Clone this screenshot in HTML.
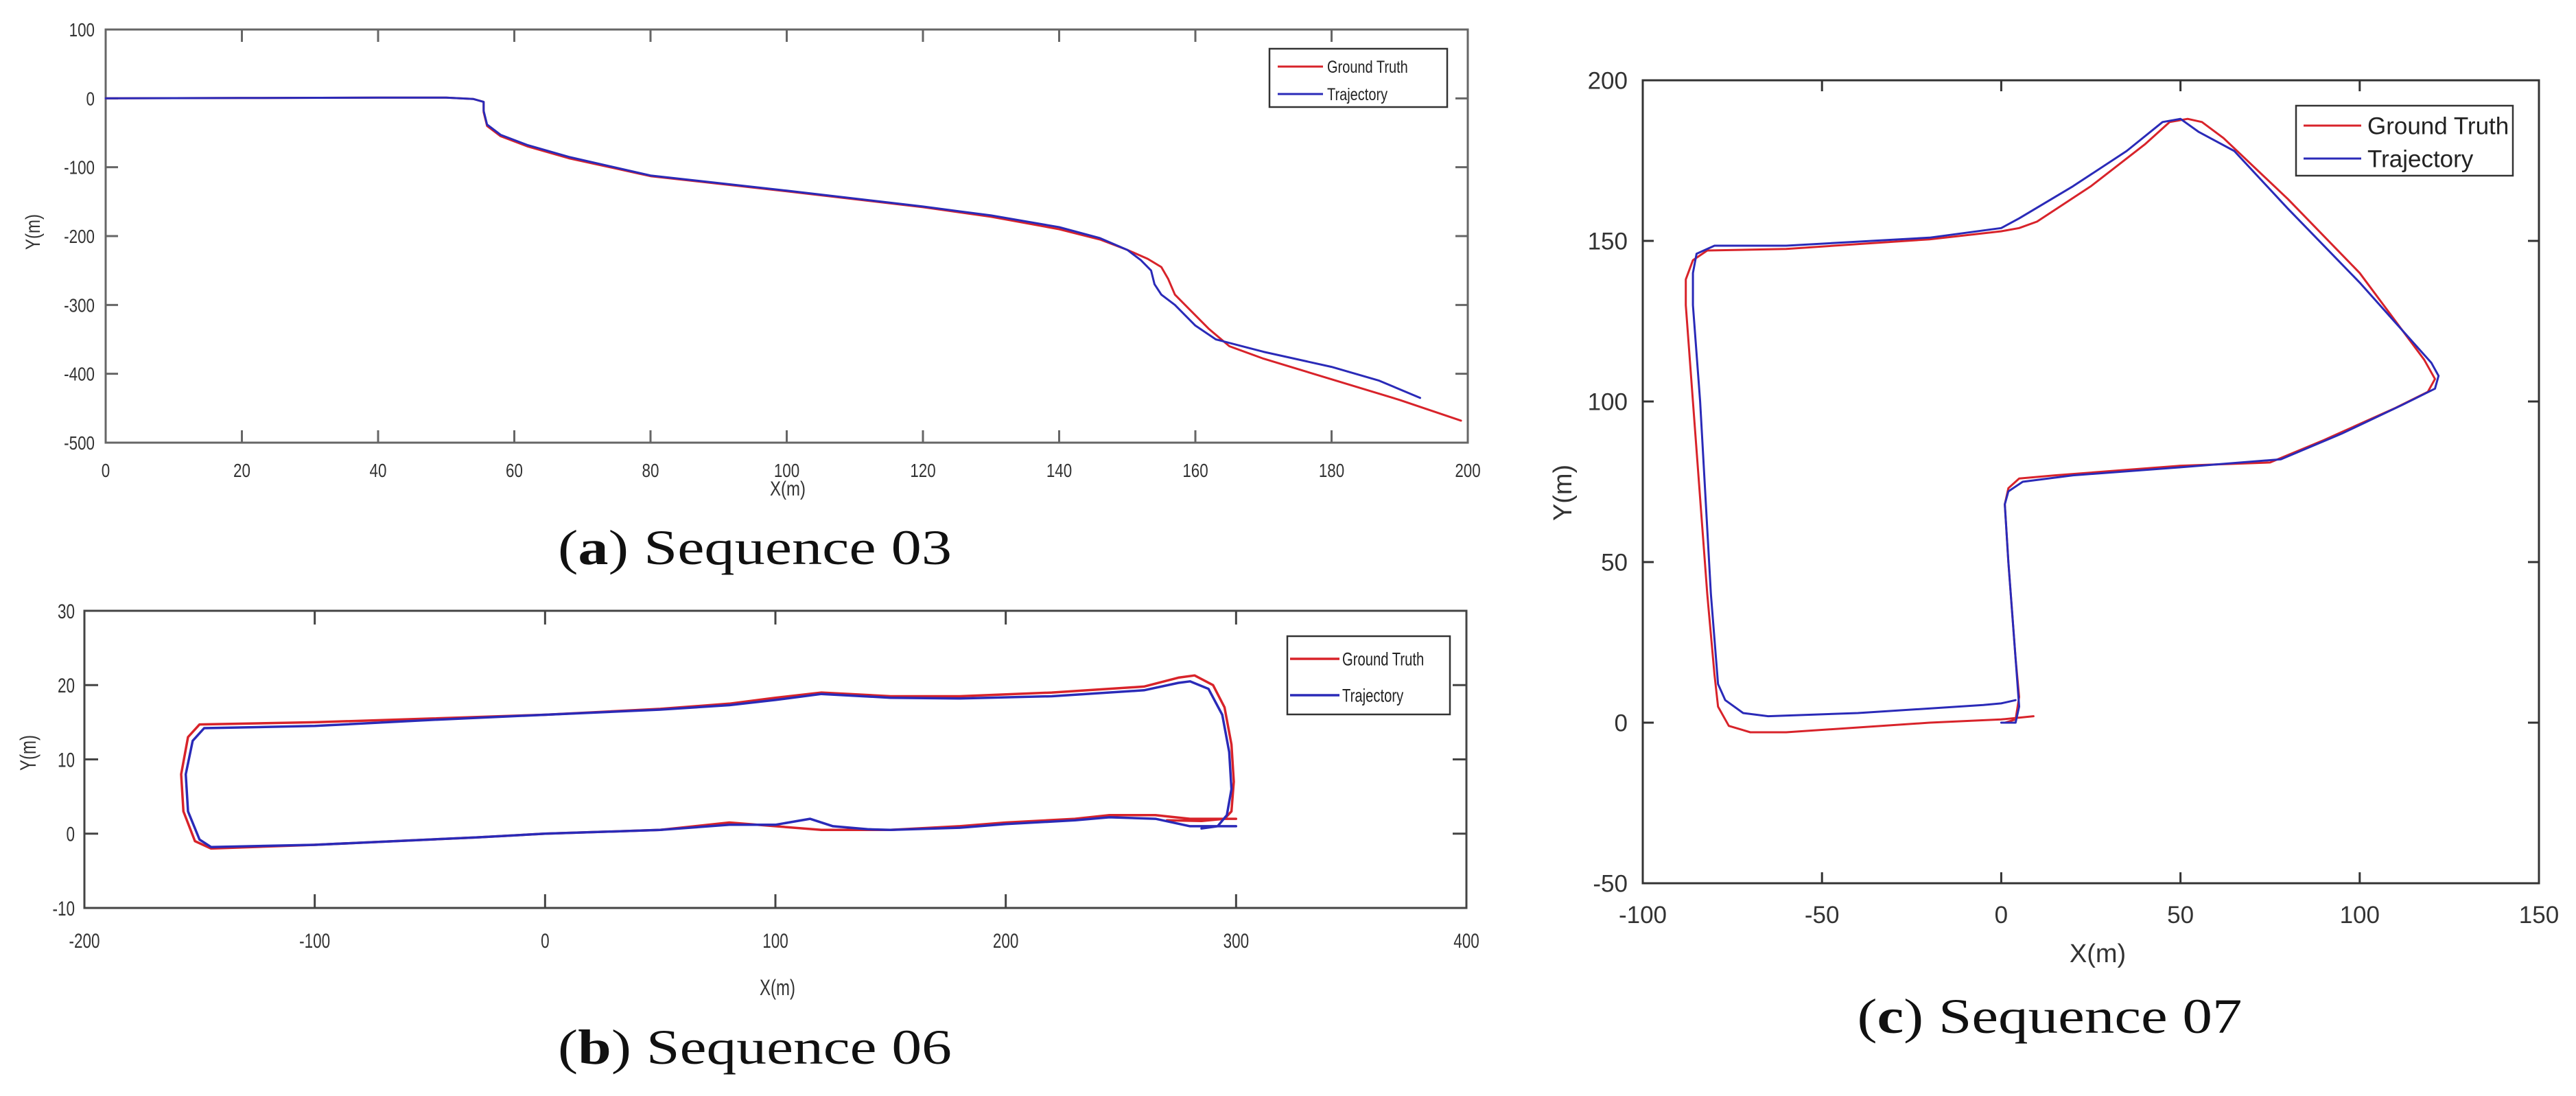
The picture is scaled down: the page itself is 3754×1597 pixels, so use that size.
<!DOCTYPE html>
<html><head><meta charset="utf-8"><style>
html,body{margin:0;padding:0;background:#fff;}
svg{display:block;}
</style></head><body>
<svg id="fig" xmlns="http://www.w3.org/2000/svg" width="3754" height="1597" viewBox="0 0 3754 1597">
<rect x="0" y="0" width="3754" height="1597" fill="#fff"/>
</svg>
<script>
// ---------- Data: Sequence 03 ----------
const a_gt_x = [0,20,40,50,54,55.5,55.5,56,58,62,68,80,100,120,130,140,146,150,153,155,156,157,159,162,165,170,180,190,199];
const a_gt_y = [0,0.5,1,1,-1,-5,-20,-40,-55,-70,-87,-113,-135,-158,-172,-190,-205,-220,-233,-245,-262,-285,-305,-335,-360,-378,-408,-438,-468];
const a_tr_x = [0,20,40,50,54,55.5,55.5,56,58,62,68,80,100,120,130,140,146,150,152,153.5,154,155,157,160,163,170,180,187,193];
const a_tr_y = [0,0.5,1,1,-1,-5,-18,-38,-53,-68,-85,-112,-134,-157,-170,-187,-203,-220,-235,-250,-270,-285,-300,-330,-350,-368,-390,-410,-435];
const a_xticks = [0,20,40,60,80,100,120,140,160,180,200];
const a_yticks = [100,0,-100,-200,-300,-400,-500];

// ---------- Data: Sequence 06 ----------
const b_gt_x = [300,280,265,245,230,200,180,150,120,100,80,50,0,-30,-100,-145,-152,-157,-158,-155,-150,-100,-50,0,50,80,100,120,150,180,220,260,275,282,290,295,298,299,298,295,285,270];
const b_gt_y = [2,2,2.5,2.5,2,1.5,1,0.5,0.5,1,1.5,0.5,0,-0.5,-1.5,-2,-1,3,8,13,14.7,15,15.5,16,16.8,17.5,18.3,19,18.5,18.5,19,19.8,21,21.3,20,17,12,7,3,2,1.7,1.8];
const b_tr_x = [300,290,280,265,245,230,200,180,150,140,125,115,100,80,50,0,-30,-100,-145,-150,-155,-156,-153,-148,-100,-50,0,50,80,100,120,150,180,220,260,275,280,288,294,297,298,296,292,285];
const b_tr_y = [1,1,1,2,2.2,1.8,1.3,0.8,0.5,0.6,1,2,1.2,1.2,0.5,0,-0.5,-1.5,-1.8,-0.8,3,8,12.5,14.2,14.5,15.3,16,16.7,17.3,18,18.8,18.3,18.2,18.5,19.3,20.3,20.5,19.5,16,11,6,2.5,1,0.7];
const b_xticks = [-200,-100,0,100,200,300,400];
const b_yticks = [30,20,10,0,-10];

// ---------- Data: Sequence 07 ----------
const c_gt_x = [9,0,-20,-60,-70,-76,-79,-80,-82,-86,-88,-88,-86,-82,-60,-20,0,5,10,25,40,47,52,56,62,80,100,118,121,119,110,90,75,50,15,5,2,1,2,4,5,4,1];
const c_gt_y = [2,1,0,-3,-3,-1,5,15,40,100,130,138,144,147,147.5,150.5,153,154,156,167,180,187,188,187,182,163,140,113,107,103,98,88,81,80,77,76,73,68,50,20,8,1,0];
const c_tr_x = [0,4,5,4,2,1,2,6,20,50,78,95,112,121,122,120,100,80,65,60,55,50,45,35,20,5,0,-20,-60,-80,-85,-86,-86,-84,-81,-79,-77,-72,-65,-40,-5,0,4];
const c_tr_y = [0,0,5,20,50,68,72,75,77,79.5,82,90,99,104,108,112,137,160,178,181,184,188,187,178,167,157,154,151,148.5,148.5,146,140,130,100,40,12,7,3,2,3,5.5,6,7];
const c_xticks = [-100,-50,0,50,100,150];
const c_yticks = [200,150,100,50,0,-50];

const NS = "http://www.w3.org/2000/svg";
const svg = document.getElementById('fig');
const RED = "#d8232a", BLUE = "#2a2ab8";

function mk(tag, attrs, parent){
  const e = document.createElementNS(NS, tag);
  for (const k in attrs) e.setAttribute(k, attrs[k]);
  (parent||svg).appendChild(e);
  return e;
}
function txt(str, x, y, size, anchor, sx, fill, parent, extra){
  const t = mk('text', {x:0, y:0, 'font-family':'Liberation Sans, Arial, sans-serif', 'font-size':size, 'text-anchor':anchor, fill:fill,
    transform:'translate('+x+','+y+') scale('+sx+',1)'}, parent);
  if (extra) for (const k in extra) t.setAttribute(k, extra[k]);
  t.textContent = str;
  return t;
}

function chart(c){
  const g = mk('g', {});
  
  
  const X = v => c.L + (v - c.xmin) / (c.xmax - c.xmin) * (c.R - c.L);
  const Y = v => c.B - (v - c.ymin) / (c.ymax - c.ymin) * (c.B - c.T);
  // frame
  const fr = mk('rect', {x:c.L, y:c.T, width:c.R-c.L, height:c.B-c.T, fill:'none', stroke:c.frame, 'stroke-width':3}, g);
  
  
  // x ticks
  c.xt.forEach(v => {
    const x = X(v);
    mk('line', {x1:x, y1:c.B, x2:x, y2:c.B-c.tl, stroke:c.frame, 'stroke-width':3}, g);
    mk('line', {x1:x, y1:c.T, x2:x, y2:c.T+c.tl, stroke:c.frame, 'stroke-width':3}, g);
    const t = txt(String(v), x, c.B + c.xlo, c.fs, 'middle', c.sx, '#333', g);
    
    
  });
  c.yt.forEach(v => {
    const y = Y(v);
    mk('line', {x1:c.L, y1:y, x2:c.L+c.tl, y2:y, stroke:c.frame, 'stroke-width':3}, g);
    mk('line', {x1:c.R, y1:y, x2:c.R-c.tl, y2:y, stroke:c.frame, 'stroke-width':3}, g);
    const t = txt(String(v), c.L - c.ylo, y + c.fs*0.36, c.fs, 'end', c.sx, '#333', g);
    
    
  });
  // series
  const line = (xs, ys, col, nm) => {
    const p = mk('polyline', {points: xs.map((v,i) => X(v).toFixed(1)+','+Y(ys[i]).toFixed(1)).join(' '),
      fill:'none', stroke:col, 'stroke-width':c.lw, 'stroke-linejoin':'round', 'stroke-linecap':'round'}, g);
    
    
  };
  line(c.gx, c.gy, RED, 'ground-truth-line');
  line(c.tx, c.ty, BLUE, 'trajectory-line');
  // axis titles
  const xl = txt('X(m)', c.xlab[0], c.xlab[1], c.lfs, 'middle', c.sx, '#333', g);
  
  
  const yl = mk('text', {x:0, y:0, 'font-family':'Liberation Sans, Arial, sans-serif', 'font-size':c.lfs, 'text-anchor':'middle', fill:'#333',
    transform:'translate('+c.ylab[0]+','+c.ylab[1]+') rotate(-90) scale('+c.sx+',1)'}, g);
  yl.textContent = 'Y(m)';
  
  
  // legend
  const lg = mk('g', {}, g);
  
  
  const lb = c.leg;
  mk('rect', {x:lb.x, y:lb.y, width:lb.w, height:lb.h, fill:'#fff', stroke:'#333', 'stroke-width':2.5}, lg);
  [['Ground Truth', RED, lb.r1], ['Trajectory', BLUE, lb.r2]].forEach(([s, col, ry]) => {
    const e = mk('g', {}, lg);
    
    
    mk('line', {x1:lb.l1, y1:ry, x2:lb.l2, y2:ry, stroke:col, 'stroke-width':c.lw}, e);
    txt(s, lb.tx, ry + lb.fs*0.36, lb.fs, 'start', c.sx, '#222', e);
  });
  // caption
  const cap = mk('text', {x:c.cap[0], y:c.cap[1], 'font-family':'Liberation Serif, serif', 'font-size':c.cap[2], 'text-anchor':'middle', fill:'#111',
    textLength:c.cap[3], lengthAdjust:'spacingAndGlyphs'}, svg);
  
  
  const t1 = document.createElementNS(NS, 'tspan'); t1.textContent = '('; cap.appendChild(t1);
  const t2 = document.createElementNS(NS, 'tspan'); t2.setAttribute('font-weight','bold'); t2.textContent = c.letter; cap.appendChild(t2);
  const t3 = document.createElementNS(NS, 'tspan'); t3.textContent = ') ' + c.seq; cap.appendChild(t3);
}

chart({name:'sequence-03-chart', L:154, R:2139, T:43, B:645, xmin:0, xmax:200, ymin:-500, ymax:100,
  xt:a_xticks, yt:a_yticks, gx:a_gt_x, gy:a_gt_y, tx:a_tr_x, ty:a_tr_y, frame:'#666', tl:18, fs:28, sx:0.8, xlo:50, ylo:16, lw:3,
  lfs:30, xlab:[1148,722], ylab:[58,338],
  leg:{x:1850, y:71, w:259, h:85, r1:97, r2:137, l1:1862, l2:1928, tx:1934, fs:25},
  cap:[1100,822,72,574], letter:'a', seq:'Sequence 03'});

chart({name:'sequence-06-chart', L:123, R:2137, T:890, B:1323, xmin:-200, xmax:400, ymin:-10, ymax:30,
  xt:b_xticks, yt:b_yticks, gx:b_gt_x, gy:b_gt_y, tx:b_tr_x, ty:b_tr_y, frame:'#444', tl:20, fs:30, sx:0.75, xlo:58, ylo:14, lw:3.5,
  lfs:32, xlab:[1133,1450], ylab:[52,1097],
  leg:{x:1876, y:927, w:237, h:114, r1:960, r2:1013, l1:1880, l2:1952, tx:1956, fs:27},
  cap:[1100,1550,72,574], letter:'b', seq:'Sequence 06'});

chart({name:'sequence-07-chart', L:2394, R:3700, T:117, B:1287, xmin:-100, xmax:150, ymin:-50, ymax:200,
  xt:c_xticks, yt:c_yticks, gx:c_gt_x, gy:c_gt_y, tx:c_tr_x, ty:c_tr_y, frame:'#333', tl:16, fs:35, sx:1, xlo:58, ylo:22, lw:3,
  lfs:38, xlab:[3057,1402], ylab:[2290,718],
  leg:{x:3346, y:154, w:316, h:102, r1:183, r2:231, l1:3357, l2:3441, tx:3450, fs:35},
  cap:[2987,1505,72,561], letter:'c', seq:'Sequence 07'});
</script>
</body></html>
